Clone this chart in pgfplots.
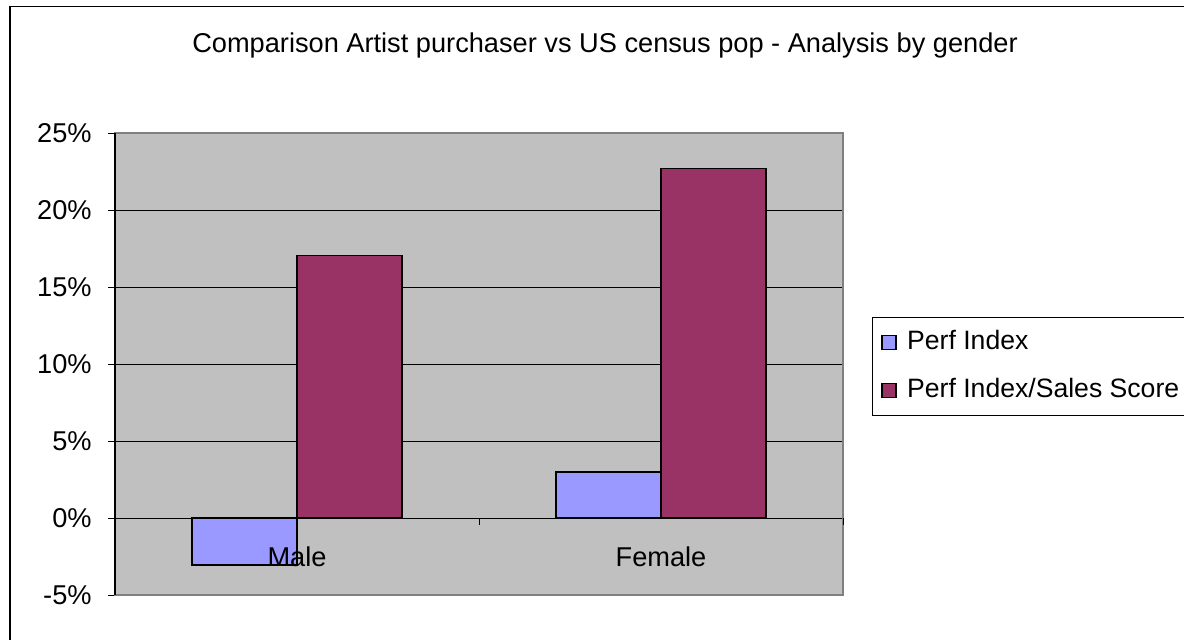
\documentclass[border=0pt]{standalone}
\usepackage{pgfplots}
\pgfplotsset{compat=1.18}
\usepackage{fontspec}
\setmainfont{Liberation Sans}
\definecolor{perf}{HTML}{9999FF}
\definecolor{sales}{HTML}{993366}
\definecolor{plotbg}{HTML}{C0C0C0}
\definecolor{bordergray}{HTML}{808080}
\newcommand{\cf}{\fontsize{13.6}{16}\selectfont}
\newcommand{\lf}{\fontsize{13.3}{16}\selectfont}
\begin{document}
\begin{tikzpicture}
\useasboundingbox (0,0) rectangle (592pt,319.5pt);
\clip (0,0) rectangle (592pt,319.5pt);
\fill[white] (0,0) rectangle (592pt,319.5pt);
\draw[black, line width=0.7pt] (5pt,-20pt) rectangle (620pt,316.2pt);
\node[font=\cf, anchor=base, inner sep=0pt] at (302.5pt,293.5pt) {Comparison Artist purchaser vs US census pop - Analysis by gender};
\begin{axis}[
  at={(57.5pt,22pt)}, anchor=south west,
  scale only axis, width=364pt, height=231pt,
  xmin=0, xmax=2, ymin=-5, ymax=25,
  axis background/.style={fill=plotbg},
  axis line style={bordergray, line width=0.9pt},
  ytick={-5,0,5,10,15,20,25},
  yticklabels={-5\%,0\%,5\%,10\%,15\%,20\%,25\%},
  yticklabel style={font=\cf, anchor=east, inner xsep=0pt, xshift=-8pt},
  ytick style={black, line width=0.5pt},
  tick align=outside, major tick length=3.5pt,
  ytick pos=left,
  xtick=\empty,
  ymajorgrids, grid style={black, line width=0.5pt},
  ybar, bar width=52.5pt,
  legend style={at={(1.0398,0.6017)}, anchor=north west, draw=black, line width=0.5pt,
    font=\lf, row sep=11pt, inner xsep=4.5pt, inner ysep=6pt,
    nodes={inner sep=0pt, text height=10pt, text depth=3pt},
    cells={anchor=west}},
  legend image code/.code={\draw[#1, line width=0.7pt] (0pt,-3.5pt) rectangle (7pt,3.5pt); \path[draw=none, fill=none] (0pt,0pt) -- (12.5pt,0pt);},
  legend cell align=left,
  clip=false,
]
\addplot[fill=perf, draw=black, line width=0.9pt, bar shift=-26.25pt] coordinates {(0.5,-3.05) (1.5,3.0)};
\addplot[fill=sales, draw=black, line width=0.9pt, bar shift=26.25pt] coordinates {(0.5,17.05) (1.5,22.7)};
\legend{Perf Index, Perf Index/Sales Score\hspace*{6pt}}
\draw[black, line width=0.7pt] (axis cs:0,-5) -- (axis cs:0,25);
\draw[black, line width=0.5pt] (axis cs:1,0) -- ([yshift=-3.5pt]axis cs:1,0);
\draw[black, line width=0.5pt] (axis cs:2,0) -- ([yshift=-3.5pt]axis cs:2,0);
\node[font=\cf] at ([yshift=-19.5pt]axis cs:0.5,0) {Male};
\node[font=\cf] at ([yshift=-19.5pt]axis cs:1.5,0) {Female};
\end{axis}
\end{tikzpicture}
\end{document}
